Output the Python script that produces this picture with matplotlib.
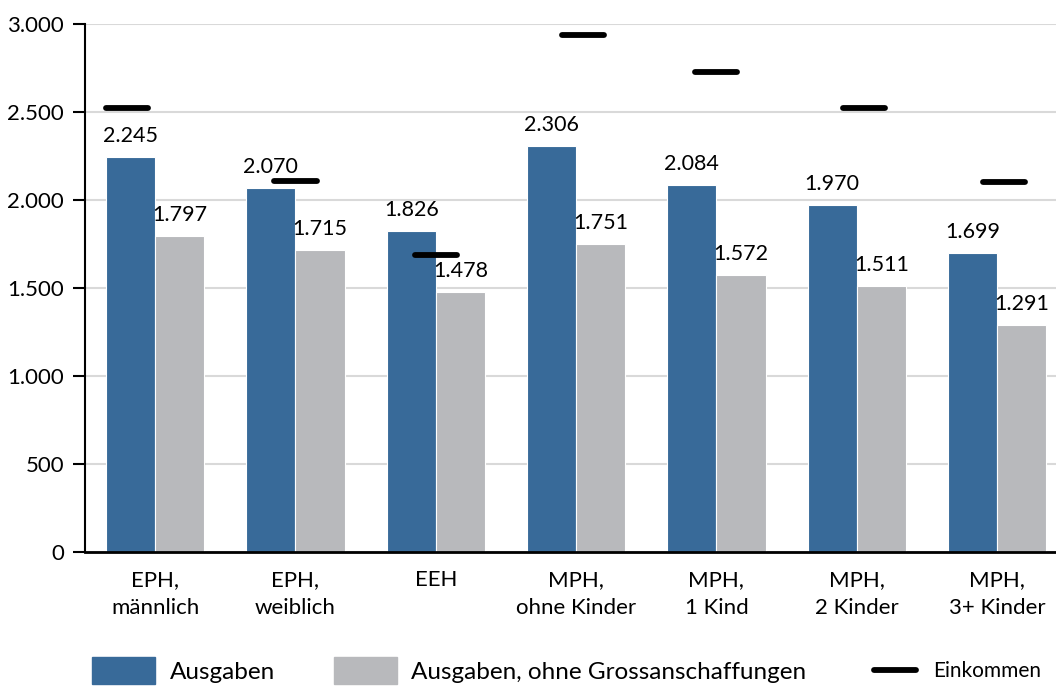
import matplotlib
matplotlib.use("Agg")
import matplotlib.pyplot as plt
import numpy as np
from matplotlib.patches import Patch
from matplotlib.lines import Line2D

plt.rcParams['font.family'] = ['Lato', 'DejaVu Sans']

# Haushaltstypen und Werte
kategorien = ["EPH,\nmännlich", "EPH,\nweiblich", "EEH", "MPH,\nohne Kinder",
              "MPH,\n1 Kind", "MPH,\n2 Kinder", "MPH,\n3+ Kinder"]
ausgaben = [2245, 2070, 1826, 2306, 2084, 1970, 1699]
ausgaben_ohne = [1797, 1715, 1478, 1751, 1572, 1511, 1291]
einkommen = [2520, 2110, 1690, 2940, 2730, 2520, 2100]
yticks = [0, 500, 1000, 1500, 2000, 2500, 3000]

blau = "#386a99"
grau = "#b8b9bc"

def tausender(v):
    return f"{v:,.0f}".replace(",", ".")

fig = plt.figure(figsize=(10.56, 6.86), dpi=100)
ax = fig.add_axes([85/1056, 1-552/686, 1-85/1056, (552-24)/686])

x = np.arange(len(kategorien))
b = 0.35
bars1 = ax.bar(x - b/2, ausgaben, b, color=blau, edgecolor="white", linewidth=0.8, zorder=2)
bars2 = ax.bar(x + b/2, ausgaben_ohne, b, color=grau, edgecolor="white", linewidth=0.8, zorder=2)

for r, v in zip(bars1, ausgaben):
    ax.annotate(tausender(v), (r.get_x() + r.get_width()/2, v), xytext=(0, 8),
                textcoords="offset points", ha="center", va="bottom", fontsize=15.5)
for r, v in zip(bars2, ausgaben_ohne):
    ax.annotate(tausender(v), (r.get_x() + r.get_width()/2, v), xytext=(0, 8),
                textcoords="offset points", ha="center", va="bottom", fontsize=15.5)

# Einkommen als kurze Striche
dx = np.array([-0.2, 0, 0, 0.05, 0, 0.05, 0.05])
lc = ax.hlines(einkommen, x + dx - 0.15, x + dx + 0.15, color="black", linewidth=4.2, zorder=3)
lc.set_capstyle("round")

ax.set_xlim(-0.5, 6.42)
ax.set_ylim(0, 3000)
ax.set_yticks(yticks)
ax.set_yticklabels([tausender(v) for v in yticks], fontsize=16)
ax.set_xticks(x)
ax.set_xticklabels(kategorien, fontsize=16, linespacing=1.5)
ax.tick_params(axis="x", length=0, pad=13)
ax.tick_params(axis="y", length=9, width=1.5, pad=6)
ax.yaxis.grid(True, color="#d9d9d9", linewidth=1.5, zorder=0)
ax.set_axisbelow(True)
for s in ["top", "right"]:
    ax.spines[s].set_visible(False)
ax.spines["left"].set_linewidth(1.5)
ax.spines["bottom"].set_linewidth(2)

leg = fig.legend(handles=[Patch(color=blau, label="Ausgaben"),
                          Patch(color=grau, label="Ausgaben, ohne Grossanschaffungen")],
                 loc="upper left", bbox_to_anchor=(80/1056, 1-645/686), ncol=2,
                 frameon=False, fontsize=17.5, handlelength=2.6, handleheight=1.3,
                 handletextpad=0.6, columnspacing=2.4, borderpad=0)
leg2 = fig.legend(handles=[Line2D([], [], color="black", linewidth=4.2,
                                  solid_capstyle="round", label="Einkommen")],
                  loc="upper left", bbox_to_anchor=(864/1056, 1-651/686),
                  frameon=False, fontsize=15, handlelength=2.0, handletextpad=0.8,
                  borderpad=0)

fig.savefig("out.png", dpi=100)
